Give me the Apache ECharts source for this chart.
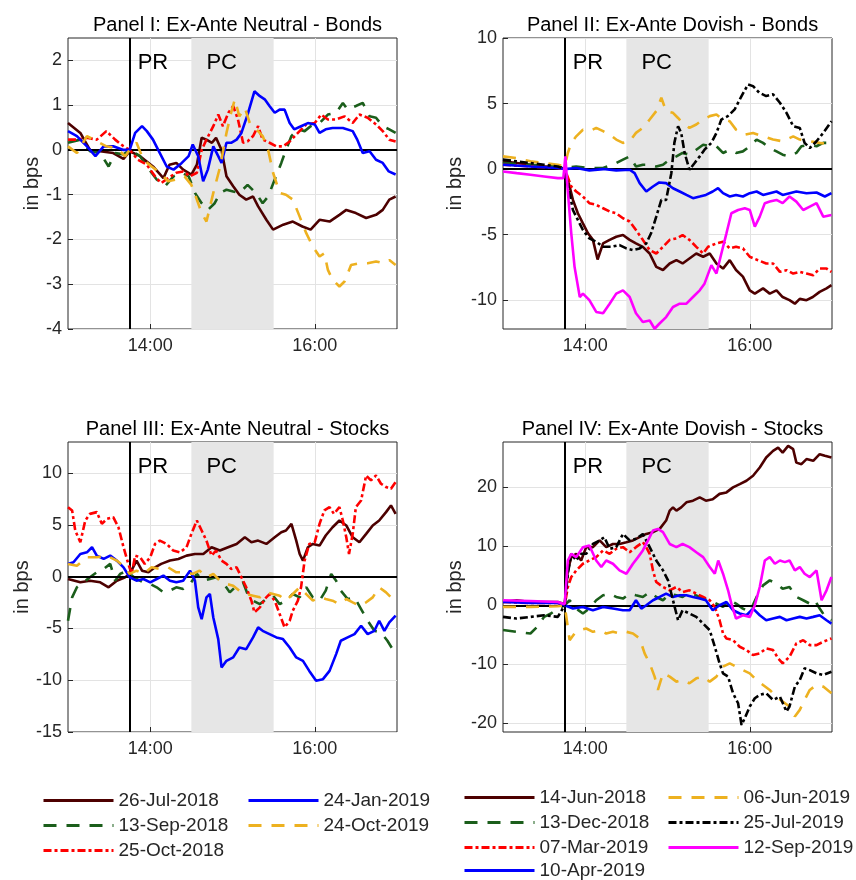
<!DOCTYPE html>
<html><head><meta charset="utf-8">
<script src="https://cdn.jsdelivr.net/npm/echarts@6/dist/echarts.min.js"></script>
<style>html,body{margin:0;padding:0;background:#fff}#c{width:856px;height:880px}</style>
</head><body><div id="c"></div>
<script>
// ---------- DATA (minutes after 13:00, bps) ----------
const xTicks = [60, 180];
const xTickLabels = ['14:00', '16:00'];
const prTime = 45, pcStart = 90, pcEnd = 150;

const neutralNames = ['26-Jul-2018', '13-Sep-2018', '25-Oct-2018', '24-Jan-2019', '24-Oct-2019'];
const dovishNames = ['14-Jun-2018', '13-Dec-2018', '07-Mar-2019', '10-Apr-2019', '06-Jun-2019', '25-Jul-2019', '12-Sep-2019'];

const panelTitles = ['Panel I: Ex-Ante Neutral - Bonds', 'Panel II: Ex-Ante Dovish - Bonds', 'Panel III: Ex-Ante Neutral - Stocks', 'Panel IV: Ex-Ante Dovish - Stocks'];
const yTicks1 = [-4, -3, -2, -1, 0, 1, 2];
const yTicks2 = [-10, -5, 0, 5, 10];
const yTicks3 = [-15, -10, -5, 0, 5, 10];
const yTicks4 = [-20, -10, 0, 10, 20];
const yRanges = [[-4, 2.5], [-12.2, 10], [-15, 13], [-21.5, 27.7]];

// Panel I: neutral bonds
const b_26Jul2018 = [[0,0.6],[9,0.38],[16,0],[23.5,-0.03],[33,-0.07],[40.5,-0.2],[45,-0.03],[52.6,-0.14],[62,-0.37],[69.6,-0.63],[74,-0.33],[79,-0.29],[84,-0.44],[90,-0.55],[94,-0.33],[97.5,0.27],[101,0.23],[105,0.16],[108,0.27],[112,0],[115.6,-0.59],[120.5,-0.81],[125,-1.0],[130,-1.11],[135,-1.04],[138.7,-1.26],[144.7,-1.56],[149.6,-1.78],[157,-1.67],[164,-1.6],[171,-1.71],[177,-1.78],[183.5,-1.56],[190.8,-1.6],[198,-1.45],[203,-1.34],[210,-1.41],[217.5,-1.52],[224.7,-1.45],[229.6,-1.34],[234.4,-1.11],[239,-1.04]];
const b_13Sep2018 = [[0,0.16],[9,0.23],[16,-0.03],[23.5,-0.07],[29.6,-0.37],[34.4,-0.07],[40.5,-0.1],[45,0],[52.6,-0.14],[57.5,-0.37],[64.7,-0.66],[70.8,-0.81],[77,-0.59],[83,-0.51],[88,-0.59],[92.6,-0.96],[97.5,-1.19],[102,-1.34],[107,-1.19],[111,-0.96],[115.6,-0.89],[120.5,-0.93],[125,-0.96],[131,-0.78],[137,-0.96],[142,-1.19],[146,-1.04],[150.8,-0.66],[155.6,-0.29],[159,0],[163,0.31],[167.7,0.46],[172.6,0.42],[177,0.53],[183.5,0.6],[189.6,0.79],[195.6,0.83],[200.5,1.05],[204,0.9],[210,0.98],[215,1.05],[220,0.75],[224.7,0.72],[229.6,0.53],[234.4,0.46],[239,0.38]];
const b_25Oct2018 = [[0,0.23],[6.5,0.23],[13.8,0.27],[21,0.23],[28,0.42],[34.4,0.23],[40.5,0.08],[45,0],[51,-0.22],[57.5,-0.33],[63.5,-0.59],[68,-0.74],[73,-0.63],[79,-0.51],[84,-0.48],[89,-0.59],[94,-0.51],[97.5,0],[101,0.23],[106,0.53],[109.6,0.79],[113,0.53],[117,0.83],[120.5,0.98],[124,0.68],[127.7,0.16],[131,0.19],[135,0.31],[138.7,0.53],[142,0.23],[147,0.16],[152,0.08],[157,0.08],[161.7,0.19],[167.7,0.38],[173.8,0.57],[180,0.6],[184.7,0.79],[189.6,0.68],[195.6,0.68],[201.7,0.75],[207.7,0.6],[212.6,0.79],[218.6,0.72],[224.7,0.57],[229.6,0.42],[234.4,0.23],[239,0.19]];
const b_24Jan2019 = [[0,0.42],[6.5,0.31],[13.8,0.08],[20,-0.14],[26,0.08],[33,0.08],[40.5,0],[45,0],[49,0.38],[54,0.53],[57.5,0.42],[62,0.23],[67,-0.07],[72,-0.37],[77,-0.44],[83,-0.29],[88,-0.14],[91,0.12],[95,-0.14],[98.6,-0.7],[102,-0.44],[106,0.08],[109.6,-0.14],[112,-0.29],[115.6,0.16],[119,0.16],[123,0.23],[126.5,0.38],[131,0.79],[136,1.31],[140,1.2],[143.5,1.13],[147,0.98],[150.8,0.83],[154.4,0.9],[158,0.9],[161.7,0.6],[165,0.46],[170,0.53],[175,0.6],[180,0.57],[183.5,0.38],[188,0.46],[193,0.49],[200.5,0.49],[207.7,0.42],[211,0.23],[215,-0.07],[220,-0.03],[224.7,-0.22],[229.6,-0.29],[234,-0.48],[239,-0.55]];
const b_24Oct2019 = [[0,0.08],[6.5,-0.07],[13.8,0.31],[21,0.19],[28,0.08],[35.6,0.04],[41.7,-0.14],[45,0],[50,0.16],[55,-0.22],[61,-0.37],[67,-0.51],[73,-0.7],[79,-0.66],[85,-0.59],[90,-0.78],[94,-1.11],[97.5,-1.41],[101,-1.6],[106,-0.96],[111,-0.37],[115.6,0.38],[119,0.83],[121.7,1.13],[125,0.75],[129,0.94],[132.6,0.6],[137.4,0.46],[142,0.31],[146,0],[149.6,-0.51],[154.4,-0.96],[159,-1.0],[164,-1.11],[169,-1.49],[173.8,-1.86],[178.6,-2.16],[183.5,-2.38],[187,-2.31],[189.6,-2.68],[193,-2.9],[198,-3.05],[201.7,-2.94],[206.5,-2.57],[212.6,-2.53],[218.6,-2.53],[224.7,-2.49],[229.6,-2.53],[234.4,-2.46],[239,-2.57]];

// Panel II: dovish bonds
const b_14Jun2018 = [[0,0.59],[10,0.46],[20,0.33],[30,0.2],[40,0.2],[45,0],[48.6,-1.33],[51,-2.35],[54.6,-3.37],[58.3,-4.14],[62,-4.9],[65.6,-5.4],[69,-6.9],[73,-5.67],[77.8,-5.4],[82.6,-5.16],[87.5,-5.03],[92.4,-5.4],[97,-5.67],[102,-5.93],[107,-6.44],[111.8,-7.46],[116.7,-7.7],[121.6,-7.2],[126.5,-6.95],[131,-7.2],[136,-6.82],[141,-6.44],[146,-6.69],[150.8,-6.44],[155.7,-7.2],[160.5,-7.59],[165.4,-6.95],[170,-7.7],[175,-8.2],[180,-9.25],[183.7,-9.5],[189.7,-9.1],[194.6,-9.5],[199.5,-9.25],[204,-9.76],[209,-10.0],[212.9,-10.27],[216.5,-9.9],[221.4,-10.0],[226,-9.76],[231,-9.37],[236,-9.1],[239.6,-8.86]];
const b_13Dec2018 = [[0,0.46],[20,0.33],[40,0.2],[45,0.08],[53.4,0.2],[63,0.08],[73,0.08],[82.6,0.46],[87.5,0.72],[92.4,0.97],[97,0.2],[102,0.33],[107,0.33],[111.8,0.2],[116.7,0.33],[121.6,0.72],[126.5,0.97],[131,1.23],[136,1.1],[141,1.48],[146,1.86],[150.8,1.74],[155.7,1.74],[160.5,1.23],[165.4,1.48],[170,1.23],[175,1.35],[180,1.74],[185,2.25],[189.7,2.0],[194.6,1.61],[199.5,1.35],[204,1.1],[209,0.97],[214,1.23],[217.7,1.74],[223.8,1.86],[228.7,1.74],[233.6,2.0],[239.6,2.0]];
const b_07Mar2019 = [[0,0.33],[20,0.2],[40,0.08],[45,0],[49.8,-1.33],[53.4,-1.71],[58.3,-2.1],[63,-2.6],[68,-2.73],[73,-2.99],[77.8,-3.24],[82.6,-3.37],[87.5,-3.75],[92.4,-4.0],[97,-4.65],[102,-5.4],[107,-6.18],[111.8,-6.44],[116.7,-5.93],[121.6,-5.4],[126.5,-5.29],[131,-5.03],[136,-5.4],[141,-5.93],[146,-6.44],[149.6,-5.93],[155.7,-5.67],[160.5,-5.54],[165.4,-6.05],[170,-5.93],[175,-6.05],[180,-6.69],[186,-6.95],[192,-7.2],[197,-7.2],[202,-7.84],[206.8,-7.71],[211.7,-7.97],[216.5,-7.84],[221.4,-7.97],[226.3,-8.1],[231,-7.59],[236,-7.59],[239.6,-7.84]];
const b_10Apr2019 = [[0,0.33],[20,0.2],[40,0.08],[45,0],[53.4,0.08],[63,-0.1],[73,0],[82.6,-0.1],[92.4,-0.05],[96,-0.31],[99.7,-1.07],[104.5,-1.71],[109.4,-1.33],[114,-1.02],[119,-1.07],[124,-1.46],[128.9,-1.71],[133.8,-1.97],[138.6,-2.22],[143.5,-2.09],[148,-1.97],[153,-1.71],[156.9,-1.46],[160.5,-1.84],[165.4,-2.09],[170,-1.97],[175,-2.09],[180,-1.84],[185,-1.71],[189.7,-1.97],[194.6,-1.84],[199.5,-1.71],[204,-1.97],[209,-1.84],[214,-1.71],[221.4,-1.84],[228.7,-1.79],[234.8,-2.09],[239.6,-1.84]];
const b_06Jun2019 = [[0,0.97],[10,0.84],[20,0.59],[30,0.46],[40,0.33],[45,0.2],[47.3,1.23],[49.8,2.0],[53.4,2.5],[58.3,3.0],[63,2.89],[68,3.14],[73,2.89],[77.8,2.63],[82.6,2.25],[87.5,2.0],[92.4,2.12],[97,2.76],[102,3.14],[107,3.78],[111.8,4.42],[115.5,5.44],[119,4.42],[124,4.29],[127.7,3.9],[131,3.52],[136,3.14],[141,3.4],[146,3.78],[150.8,4.04],[155.7,4.16],[160.5,3.78],[165.4,3.65],[170,3.01],[176.4,2.63],[182.4,2.76],[189.7,2.5],[197,2.25],[204,2.12],[211.7,2.5],[216.5,2.25],[223.8,2.12],[231,2.0],[239.6,1.86]];
const b_25Jul2019 = [[0,0.72],[10,0.59],[20,0.46],[30,0.33],[40,0.2],[45,0],[48.6,-1.84],[51,-3.12],[54.6,-3.88],[58.3,-4.65],[63,-5.29],[68,-5.54],[73,-5.93],[79,-5.93],[85,-5.8],[90,-6.05],[94.8,-6.18],[99.7,-6.05],[104.5,-5.67],[108,-4.9],[111.8,-3.63],[115.5,-2.35],[119,-2.35],[122.8,-0.31],[125,2.0],[127.7,3.27],[130,2.76],[132.5,1.23],[136,-0.05],[139.8,0.46],[143.5,0.97],[147,1.48],[152,2.0],[155.7,2.76],[159.3,3.78],[164,4.04],[169,4.55],[174,5.57],[178.8,6.46],[182.4,6.33],[187,5.82],[192,5.57],[197,5.7],[202,5.06],[206.8,4.29],[211.7,3.27],[216.5,3.14],[220,2.0],[223.8,1.61],[228.7,2.12],[233.6,2.76],[239.6,3.65]];
const b_12Sep2019 = [[0,-0.18],[10,-0.31],[20,-0.43],[30,-0.56],[40,-0.69],[44,-0.69],[45.5,0.97],[47,-1.33],[49.8,-4.9],[52.2,-7.46],[56,-9.76],[58.3,-9.5],[63,-10.0],[68,-10.9],[73,-11.0],[77.8,-10.27],[82.6,-9.5],[87.5,-9.25],[92.4,-9.76],[97,-11.0],[102,-11.67],[107,-11.55],[110.6,-12.18],[114,-11.8],[119,-11.29],[124,-10.52],[128.9,-10.27],[133.8,-10.27],[138.6,-9.76],[143.5,-9.25],[147,-8.74],[152,-7.33],[155.7,-7.97],[159.3,-6.44],[163,-4.9],[166.6,-3.37],[171.5,-3.12],[176.4,-2.99],[180,-3.12],[183.7,-4.39],[187.3,-3.63],[191,-2.6],[194.6,-2.48],[199.5,-2.35],[204,-2.6],[209,-2.09],[214,-2.48],[219,-3.12],[223.8,-2.86],[228.7,-2.6],[233.6,-3.63],[239.6,-3.5]];

// Panel III: neutral stocks
const s_26Jul2018 = [[0,-0.23],[9,-0.55],[16,-0.39],[23.5,-0.55],[29.6,-1.03],[35.6,-0.39],[41.7,-0.06],[45,0.26],[50,1.55],[54,0.58],[58.7,0.42],[63.5,0.9],[68,1.23],[74.4,1.55],[80.5,1.71],[86.5,2.03],[92.6,2.19],[98.7,2.19],[104.7,2.84],[110.8,2.52],[116.8,2.84],[123,3.16],[129,3.8],[133.8,3.32],[138.7,3.48],[144.7,3.16],[150.8,3.8],[155.6,4.29],[159,4.45],[163,5.1],[166.5,3.48],[169,2.19],[171.4,1.55],[175,2.84],[178.6,3.16],[183.5,3.0],[188,3.97],[193,4.77],[198,5.42],[203,4.94],[207.7,3.8],[212.6,3.32],[217.5,4.13],[222.3,4.94],[227,5.42],[232,6.23],[235.6,6.87],[239,6.06]];
const s_13Sep2018 = [[0,-4.26],[3,-2.0],[6.5,-1.03],[11.4,-0.55],[16,-0.06],[21,0.42],[26,0.74],[30.8,1.23],[34.4,-0.39],[38,0.26],[43,0.58],[45,0.26],[50,-0.23],[55,-0.55],[60,-0.71],[64.7,-1.03],[69.6,-1.52],[74.4,-1.35],[79,-1.03],[84,-1.19],[89,-0.71],[94,0.26],[98.7,-0.39],[103.5,-0.23],[108,-0.06],[113,-0.55],[118,-1.52],[123,-0.87],[127.7,-0.55],[131,-1.68],[135,-2.32],[140,-2.65],[144.7,-2.16],[149.6,-1.84],[154.4,-2.65],[159,-2.32],[164,-1.68],[169,-2.0],[173.8,-1.03],[178.6,-2.0],[183.5,-2.32],[188,-1.35],[192,0.26],[195.6,-0.39],[199,-1.35],[204,-2.16],[209,-2.0],[213.8,-3.13],[218.6,-4.26],[223.5,-5.23],[228.3,-5.39],[233,-6.19],[239,-7.48]];
const s_25Oct2018 = [[0,6.71],[3,6.39],[5.3,4.45],[9,3.32],[12.6,5.42],[16,6.06],[21,6.23],[24.7,5.1],[28.4,5.58],[33,5.74],[36.8,4.77],[40.5,2.84],[44,1.23],[46.5,0.26],[49,2.03],[52.6,1.87],[56,1.23],[60,1.87],[63.5,3.16],[67,3.48],[72,3.16],[76.8,2.52],[81.7,2.35],[86.5,2.84],[90,4.13],[94,5.42],[97.5,4.45],[101,3.48],[104.7,2.03],[108,2.52],[112,1.55],[115.6,1.23],[119,0.74],[123,0.9],[126.5,-0.06],[130,-1.03],[133.8,-2.32],[136,-3.45],[140,-2.97],[143.5,-2.16],[147,-1.68],[150.8,-2.32],[154.4,-3.61],[158,-4.9],[161.7,-4.26],[164,-3.29],[167.7,-2.32],[170,-1.03],[172.6,1.55],[176,3.16],[180,3.32],[183.5,5.1],[187,6.39],[190.8,6.71],[194,6.06],[198,6.71],[200.5,5.42],[203,3.8],[205,2.19],[207.7,4.13],[210,6.71],[213.8,7.35],[217.5,9.77],[221,9.29],[224.7,9.77],[228.3,8.97],[232,8.65],[235.6,8.48],[239,9.13]];
const s_24Jan2019 = [[0,1.23],[4,1.39],[9,2.19],[13.8,2.35],[17.5,2.84],[21,2.03],[26,1.71],[30.8,2.03],[35.6,1.55],[40.5,0.9],[45,-0.06],[50,-0.39],[55,-0.23],[60,-0.55],[64.7,-0.23],[69.6,0.1],[74.4,-0.39],[79,-0.55],[84,-0.39],[89,0.58],[92.6,-0.39],[95,-2.97],[97.5,-4.1],[101,-2.0],[103.5,-1.68],[106,-3.94],[109.6,-6.03],[112,-8.77],[115.6,-8.13],[120.5,-7.8],[125,-6.84],[130,-7.0],[135,-5.87],[138.7,-4.9],[142,-5.23],[147,-5.55],[152,-5.87],[156.8,-6.03],[161.7,-6.84],[166.5,-7.8],[171.4,-8.13],[176,-9.1],[181,-10.06],[186,-9.9],[190.8,-9.1],[195.6,-7.48],[199,-6.19],[204,-5.87],[209,-5.55],[213.8,-4.74],[218.6,-5.55],[223.5,-5.23],[227,-4.26],[230.8,-5.23],[234.4,-4.42],[239,-3.77]];
const s_24Oct2019 = [[0,1.23],[6.5,1.06],[13.8,1.87],[21,1.87],[28.4,2.03],[35.6,1.55],[41.7,0.9],[45,0.26],[50,0.58],[55,0.26],[61,0.9],[67,0.74],[73,0.9],[79,0.42],[85,0.42],[91,0.26],[96,0.58],[101,-0.06],[106,0.26],[110.8,-0.39],[115.6,-0.71],[120.5,-0.87],[125,-1.35],[130,-1.68],[135,-1.84],[140,-2.0],[144.7,-1.52],[149.6,-1.68],[154.4,-1.84],[159,-2.32],[164,-1.68],[169,-1.03],[173.8,-1.68],[178.6,-2.32],[183.5,-2.0],[188,-2.16],[193,-2.32],[198,-2.65],[203,-2.16],[207.7,-2.48],[212.6,-2.81],[217.5,-2.48],[222.3,-2.0],[227,-1.03],[232,-1.52],[235.6,-2.0],[239,-2.16]];

// Panel IV: dovish stocks
const s_14Jun2018 = [[0,0.56],[10,0.85],[20,0.56],[30,0.56],[40,0.56],[45,0.17],[47.3,5.9],[49.8,8.17],[53.4,8.73],[57,7.6],[60.7,9.86],[65.6,9.86],[70.5,11.0],[75.3,9.86],[80.2,10.4],[85,10.4],[90,10.7],[94.8,11.0],[99.7,11.55],[104.5,12.1],[109.4,12.4],[114.3,12.96],[119,14.37],[121.6,16.06],[124,16.6],[126.5,16.06],[130,16.6],[133.8,17.46],[138.6,17.75],[143.5,18.3],[148,17.75],[153,18.0],[158,18.9],[163,19.15],[167.8,20.0],[172.7,20.56],[177.6,21.13],[182.4,21.97],[187.3,23.38],[192,25.07],[197,26.2],[200.7,26.76],[204,25.9],[208,27.04],[211.7,26.48],[214,24.2],[217.7,23.94],[221.4,24.8],[226.3,24.5],[231,25.63],[234.8,25.35],[239.6,25.07]];
const s_13Dec2018 = [[0,-4.2],[10,-4.5],[20,-4.79],[25,-3.66],[30,-1.97],[35,-1.4],[40,-0.56],[45,0],[48.6,0.85],[53.4,-0.56],[58.3,-1.4],[63,-0.56],[68,0.85],[73,1.69],[77.8,1.97],[82.6,1.41],[87.5,1.13],[92.4,1.97],[97,1.69],[102,1.41],[107,2.25],[111.8,1.41],[116.7,0.85],[121.6,1.97],[126.5,1.69],[131,1.41],[136,2.25],[141,1.69],[146,1.13],[150.8,0.85],[155.7,0.28],[160.5,-0.28],[165.4,0.85],[170,0.28],[175,-0.56],[180,-1.13],[185,1.41],[189.7,3.38],[194.6,4.23],[199.5,3.66],[204,2.82],[209,3.1],[214,1.41],[219,0.85],[223.8,0.28],[227.5,0.85],[231,-0.56],[236,-2.25],[239.6,-2.54]];
const s_07Mar2019 = [[0,0.56],[20,0.39],[40,0.39],[45,0],[47.3,3.1],[49.8,4.79],[53.4,5.9],[58.3,7.04],[63,7.6],[68,8.17],[73,9.3],[77.8,8.73],[82.6,9.58],[87.5,9.86],[92.4,9.0],[97,9.86],[102,10.7],[104.5,9.86],[107,8.73],[109.4,5.9],[111.8,3.94],[116.7,3.1],[121.6,2.54],[126.5,3.1],[131,2.25],[136,2.54],[141,1.97],[146,1.41],[150.8,0.85],[154.5,-0.28],[158,-2.54],[160.5,-4.79],[163,-5.63],[167.8,-5.92],[172.7,-7.04],[177.6,-7.6],[182.4,-8.45],[187.3,-8.17],[192,-7.32],[197,-7.6],[200.7,-9.0],[204,-9.86],[209,-8.73],[214,-6.48],[219,-5.92],[223.8,-6.76],[228.7,-6.76],[233.6,-6.2],[239.6,-5.63]];
const s_10Apr2019 = [[0,0.56],[20,0.39],[40,0.39],[45,0],[51,-0.56],[58.3,-0.28],[65.6,-0.85],[73,-0.28],[80.2,-0.56],[87.5,-0.85],[92.4,-0.85],[97,0.85],[100.9,-0.56],[104.5,0],[109.4,0.85],[114.3,1.41],[119,1.97],[124,1.41],[128.9,1.69],[133.8,1.69],[138.6,1.41],[143.5,1.13],[148,0.85],[153,-0.85],[158,0],[163,0.56],[167.8,-0.85],[172.7,-1.4],[177.6,-1.69],[182.4,-0.56],[187.3,-1.69],[192,-2.54],[197,-2.25],[202,-1.97],[206.8,-2.54],[211.7,-2.25],[216.5,-1.97],[221.4,-2.25],[226.3,-1.97],[231,-1.69],[236,-2.54],[239.6,-3.1]];
const s_06Jun2019 = [[0,-0.28],[20,-0.28],[40,-0.17],[45,0],[48.6,-5.92],[52.2,-4.79],[56,-4.23],[60.7,-3.94],[65.6,-4.5],[70.5,-4.23],[75.3,-4.79],[80.2,-4.5],[85,-4.79],[90,-4.5],[94.8,-4.79],[99.7,-5.63],[103.3,-8.17],[107,-9.86],[110.6,-12.1],[113,-14.37],[116.7,-11.55],[121.6,-12.1],[126.5,-12.96],[131,-12.68],[136,-13.24],[141,-12.4],[146,-12.1],[150.8,-12.96],[155.7,-12.1],[160.5,-10.4],[165.4,-9.86],[170,-10.4],[175,-11.0],[180,-11.55],[185,-12.68],[189.7,-13.52],[194.6,-14.37],[199.5,-15.5],[204,-16.34],[209,-17.18],[212.9,-18.87],[216.5,-17.75],[220,-16.06],[223.8,-14.37],[228.7,-13.52],[233.6,-13.8],[239.6,-14.93]];
const s_25Jul2019 = [[0,-1.97],[10,-2.25],[20,-1.97],[30,-1.69],[40,-1.97],[45,0],[47.3,5.35],[49.8,8.73],[53.4,7.6],[57,8.73],[60.7,8.73],[65.6,10.4],[70.5,11.0],[74,11.55],[77.8,9.58],[82.6,9.86],[87.5,12.1],[92.4,11.0],[97,11.27],[102,12.1],[107,9.86],[111.8,7.6],[116.7,5.92],[120.4,4.23],[124,0.85],[127.7,-2.54],[131,-0.85],[136,-1.4],[141,-1.97],[146,-3.1],[150.8,-4.23],[154.5,-7.04],[158,-9.86],[160.5,-11.55],[164.2,-12.1],[167.8,-14.93],[171.5,-16.62],[174,-20.3],[176.4,-19.15],[180,-17.18],[183.7,-15.77],[187.3,-15.2],[192,-14.93],[197,-16.06],[202,-15.5],[206.8,-18.03],[209,-17.18],[212.9,-13.8],[216.5,-12.68],[220,-10.7],[223.8,-11.0],[228.7,-11.55],[233.6,-11.83],[239.6,-11.27]];
const s_12Sep2019 = [[0,0.85],[20,0.73],[40,0.56],[45,0.17],[47.3,7.6],[49.8,8.73],[53.4,8.17],[58.3,9.86],[63,10.14],[68,7.6],[71.7,6.48],[75.3,7.6],[80.2,7.04],[85,5.92],[90,5.35],[94.8,7.04],[98.5,8.17],[102,9.3],[105.8,11.0],[109.4,12.68],[113,12.96],[116.7,12.4],[121.6,10.4],[126.5,9.86],[131,10.4],[136,9.86],[141,9.0],[146,8.17],[150.8,6.48],[154.5,5.35],[157,7.6],[160.5,5.35],[164.2,2.54],[166.6,0.28],[170,-2.25],[175,-1.69],[180,-1.97],[183.7,0],[187.3,3.1],[191,7.6],[194.6,8.17],[198.3,7.04],[202,7.6],[205.6,7.32],[209,7.6],[212.9,5.92],[216.5,6.48],[220,5.35],[223.8,4.79],[228.7,5.92],[232.4,0.85],[236,2.54],[239.6,4.79]];

// ---------- STYLE / LAYOUT ----------
const FONT = '"Liberation Sans", Arial, Helvetica, sans-serif';
const DASH = { solid: 'solid', dashed: [13, 10], dashdot: [8, 3, 3, 3] };
const lineLook = {
  '26-Jul-2018': ['#4d0000', 'solid'], '14-Jun-2018': ['#4d0000', 'solid'],
  '13-Sep-2018': ['#1b5e1b', 'dashed'], '13-Dec-2018': ['#1b5e1b', 'dashed'],
  '25-Oct-2018': ['#ff0000', 'dashdot'], '07-Mar-2019': ['#ff0000', 'dashdot'],
  '24-Jan-2019': ['#0000ff', 'solid'], '10-Apr-2019': ['#0000ff', 'solid'],
  '24-Oct-2019': ['#edb120', 'dashed'], '06-Jun-2019': ['#edb120', 'dashed'],
  '25-Jul-2019': ['#000000', 'dashdot'], '12-Sep-2019': ['#ff00ff', 'solid']
};
const grids = [
  { left: 68, top: 38, width: 329, height: 291 },
  { left: 503, top: 38, width: 329, height: 291 },
  { left: 68, top: 442, width: 329, height: 290 },
  { left: 503, top: 442, width: 329, height: 290 }
];
const nameGaps = [26, 38, 33, 38];
const panelSeries = [
  [neutralNames, [b_26Jul2018, b_13Sep2018, b_25Oct2018, b_24Jan2019, b_24Oct2019]],
  [dovishNames, [b_14Jun2018, b_13Dec2018, b_07Mar2019, b_10Apr2019, b_06Jun2019, b_25Jul2019, b_12Sep2019]],
  [neutralNames, [s_26Jul2018, s_13Sep2018, s_25Oct2018, s_24Jan2019, s_24Oct2019]],
  [dovishNames, [s_14Jun2018, s_13Dec2018, s_07Mar2019, s_10Apr2019, s_06Jun2019, s_25Jul2019, s_12Sep2019]]
];
const yTickSets = [yTicks1, yTicks2, yTicks3, yTicks4];
const AX = '#262626';

const option = {
  animation: false,
  backgroundColor: '#fff',
  title: panelTitles.map((t, i) => ({
    text: t, left: grids[i].left + grids[i].width / 2, top: grids[i].top - 28, textAlign: 'center',
    textStyle: { fontFamily: FONT, fontSize: 20, fontWeight: 'normal', color: '#000' }
  })),
  grid: grids.map(g => Object.assign({ show: true, borderColor: AX, borderWidth: 1, backgroundColor: '#fff', containLabel: false }, g)),
  xAxis: grids.map((g, i) => ({
    type: 'value', gridIndex: i, min: 0, max: 240,
    axisLine: { show: false, onZero: false },
    axisTick: { show: true, inside: true, length: 5, lineStyle: { color: AX }, customValues: xTicks },
    axisLabel: { customValues: xTicks, margin: 8, fontFamily: FONT, fontSize: 18, color: AX,
      formatter: v => xTickLabels[xTicks.indexOf(v)] || '' },
    splitLine: { show: true, lineStyle: { color: '#e3e3e3', width: 1 } }
  })),
  yAxis: grids.map((g, i) => ({
    type: 'value', gridIndex: i, min: yRanges[i][0], max: yRanges[i][1],
    name: 'in bps', nameLocation: 'middle', nameGap: nameGaps[i],
    nameTextStyle: { fontFamily: FONT, fontSize: 20, color: AX },
    axisLine: { show: false },
    axisTick: { show: true, inside: true, length: 5, lineStyle: { color: AX }, customValues: yTickSets[i] },
    axisLabel: { customValues: yTickSets[i], margin: 6, fontFamily: FONT, fontSize: 18, color: AX },
    splitLine: { show: true, lineStyle: { color: '#e3e3e3', width: 1 } }
  })),
  legend: [
    { data: ['26-Jul-2018', '13-Sep-2018', '25-Oct-2018'], left: 42, top: 791 },
    { data: ['24-Jan-2019', '24-Oct-2019'], left: 247, top: 791 },
    { data: ['14-Jun-2018', '13-Dec-2018', '07-Mar-2019'], left: 463, top: 788 },
    { data: ['10-Apr-2019'], left: 463, top: 861 },
    { data: ['06-Jun-2019', '25-Jul-2019', '12-Sep-2019'], left: 667, top: 788 }
  ].map(l => Object.assign({
    orient: 'vertical', itemWidth: 70, itemHeight: 14, itemGap: 6, padding: 0,
    selectedMode: false,
    itemStyle: { opacity: 0, borderWidth: 0 },
    lineStyle: { width: 3 },
    textStyle: { fontFamily: FONT, fontSize: 19, color: AX }
  }, l)),
  series: []
};

panelSeries.forEach(([names, datas], i) => {
  // shaded press-conference band + annotations
  option.series.push({
    type: 'line', xAxisIndex: i, yAxisIndex: i, data: [], z: 1, silent: true,
    markArea: {
      silent: true,
      data: [
        [{ xAxis: pcStart, itemStyle: { color: '#e6e6e6' },
           label: { show: true, position: 'insideTopLeft', distance: 0, offset: [15, 14], formatter: 'PC', fontFamily: FONT, fontSize: 22, color: '#000' } },
         { xAxis: pcEnd }],
        [{ xAxis: prTime, itemStyle: { color: 'rgba(0,0,0,0)' },
           label: { show: true, position: 'insideTopLeft', distance: 0, offset: [8, 14], formatter: 'PR', fontFamily: FONT, fontSize: 22, color: '#000' } },
         { xAxis: prTime + 20 }]
      ]
    }
  });
  option.series.push({
    type: 'line', xAxisIndex: i, yAxisIndex: i, data: [], z: 2, silent: true,
    markLine: {
      silent: true, symbol: 'none', animation: false,
      label: { show: false },
      lineStyle: { color: '#000', width: 2, type: 'solid' },
      data: [{ yAxis: 0 }, { xAxis: prTime }]
    }
  });
  names.forEach((n, k) => {
    const look = lineLook[n];
    option.series.push({
      name: n, type: 'line', xAxisIndex: i, yAxisIndex: i, data: datas[k],
      symbol: 'none', showSymbol: false, z: 3 + k,
      lineStyle: { color: look[0], width: 2.6, type: DASH[look[1]] },
      itemStyle: { color: look[0] }
    });
  });
});

const chart = echarts.init(document.getElementById('c'), null, { renderer: 'canvas' });
chart.setOption(option);
</script></body></html>
